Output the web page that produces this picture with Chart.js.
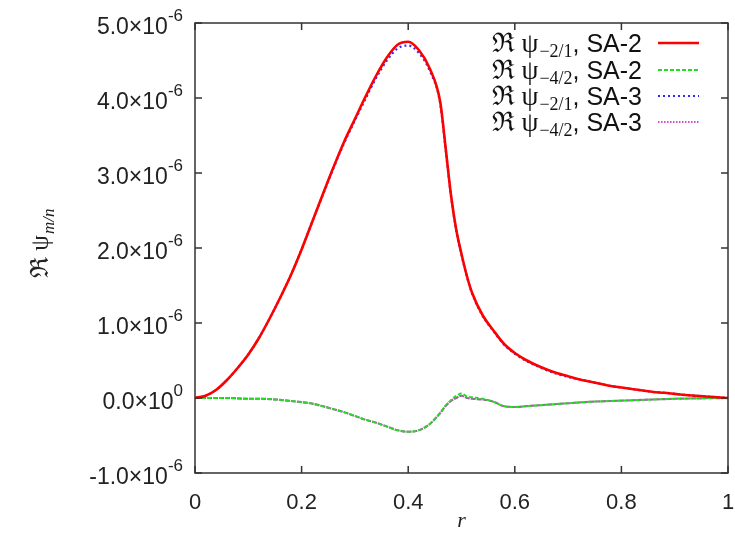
<!DOCTYPE html>
<html>
<head>
<meta charset="utf-8">
<script src="https://cdn.jsdelivr.net/npm/chart.js@4.4.0/dist/chart.umd.min.js"></script>
<style>
  html, body { margin: 0; padding: 0; background: #fff; }
  #wrap { width: 735px; height: 539px; }
</style>
</head>
<body>
<div id="wrap"><canvas id="psiChart" width="735" height="539"></canvas></div>
<script>
// radius grid and curves, values in units of 1e-6
const r = [0, 0.02, 0.04, 0.06, 0.08, 0.10, 0.12, 0.14, 0.16, 0.18, 0.20, 0.22, 0.24, 0.26, 0.28, 0.30,
    0.32, 0.34, 0.36, 0.38, 0.40, 0.42, 0.44, 0.46, 0.47, 0.48, 0.49, 0.50, 0.51, 0.52,
    0.54, 0.56, 0.58, 0.60, 0.62, 0.64, 0.66, 0.68, 0.70, 0.72, 0.74, 0.76, 0.78, 0.80,
    0.82, 0.84, 0.86, 0.88, 0.90, 0.92, 0.94, 0.96, 0.98, 1.00];

const psi21_sa2 = [0, 0.03, 0.11, 0.24, 0.40, 0.58, 0.80, 1.06, 1.34, 1.64, 1.98, 2.35, 2.72, 3.08, 3.42, 3.72,
    4.02, 4.30, 4.54, 4.71, 4.75, 4.64, 4.40, 3.95, 3.35, 2.72, 2.25, 1.92, 1.63, 1.40,
    1.10, 0.90, 0.72, 0.60, 0.51, 0.44, 0.38, 0.33, 0.29, 0.25, 0.22, 0.19, 0.16, 0.14,
    0.12, 0.10, 0.08, 0.07, 0.055, 0.04, 0.03, 0.02, 0.01, 0];

const psi42_sa2 = [0, 0, 0, 0, -0.005, -0.01, -0.01, -0.015, -0.025, -0.04, -0.055, -0.075, -0.11, -0.15, -0.19, -0.24,
    -0.29, -0.33, -0.38, -0.43, -0.45, -0.43, -0.35, -0.20, -0.10, -0.03, 0.03, 0.06, 0.02, 0.01,
    -0.01, -0.05, -0.11, -0.12, -0.11, -0.10, -0.09, -0.08, -0.07, -0.06, -0.05, -0.045, -0.04, -0.035,
    -0.03, -0.025, -0.02, -0.015, -0.01, -0.008, -0.005, -0.003, -0.001, 0];

const psi21_sa3 = [0, 0.03, 0.11, 0.24, 0.40, 0.58, 0.80, 1.06, 1.34, 1.64, 1.98, 2.35, 2.71, 3.07, 3.40, 3.70,
    3.99, 4.27, 4.50, 4.66, 4.70, 4.60, 4.37, 3.93, 3.33, 2.71, 2.24, 1.91, 1.62, 1.39,
    1.09, 0.89, 0.71, 0.59, 0.50, 0.43, 0.37, 0.32, 0.28, 0.25, 0.22, 0.19, 0.16, 0.14,
    0.12, 0.10, 0.08, 0.07, 0.055, 0.04, 0.03, 0.02, 0.01, 0];

const psi42_sa3 = [0, 0, 0, 0, -0.005, -0.01, -0.01, -0.015, -0.025, -0.04, -0.055, -0.075, -0.11, -0.15, -0.19, -0.24,
    -0.29, -0.33, -0.38, -0.43, -0.45, -0.43, -0.35, -0.20, -0.11, -0.04, 0.00, 0.03, 0.00, -0.01,
    -0.02, -0.05, -0.11, -0.12, -0.11, -0.10, -0.09, -0.08, -0.07, -0.06, -0.05, -0.045, -0.04, -0.035,
    -0.03, -0.025, -0.02, -0.015, -0.01, -0.008, -0.005, -0.003, -0.001, 0];

const unit = 1e-6;
const xTicks = [0, 0.2, 0.4, 0.6, 0.8, 1];
const yTicks = [-1, 0, 1, 2, 3, 4, 5];

const seriesInfo = [
    { sub: '\u22122/1', run: 'SA-2', data: psi21_sa2, color: '#ff0000', width: 2.6, dash: [] },
    { sub: '\u22124/2', run: 'SA-2', data: psi42_sa2, color: '#22dd22', width: 1.8, dash: [4, 2] },
    { sub: '\u22122/1', run: 'SA-3', data: psi21_sa3, color: '#2a2aff', width: 2.2, dash: [2, 3] },
    { sub: '\u22124/2', run: 'SA-3', data: psi42_sa3, color: '#9a6a9a', width: 2.2, dash: [5, 1] }
];

function toPoints(arr) {
    return r.map((x, i) => ({ x: x, y: arr[i] * unit }));
}

const sansFont = '"Liberation Sans", Arial, sans-serif';
const serifFont = '"Liberation Serif", "DejaVu Serif", serif';

const decorPlugin = {
    id: 'decor',
    afterDraw(chart) {
        const ctx = chart.ctx;
        const a = chart.chartArea;
        const xs = chart.scales.x;
        const ys = chart.scales.y;
        ctx.save();

        // frame and inward ticks (mirrored)
        ctx.strokeStyle = '#333';
        ctx.lineWidth = 1.5;
        ctx.strokeRect(a.left, a.top, a.right - a.left, a.bottom - a.top);
        ctx.beginPath();
        xTicks.forEach(t => {
            const px = xs.getPixelForValue(t);
            ctx.moveTo(px, a.bottom); ctx.lineTo(px, a.bottom - 7);
            ctx.moveTo(px, a.top); ctx.lineTo(px, a.top + 7);
        });
        yTicks.forEach(t => {
            const py = ys.getPixelForValue(t * unit);
            ctx.moveTo(a.left, py); ctx.lineTo(a.left + 7, py);
            ctx.moveTo(a.right, py); ctx.lineTo(a.right - 7, py);
        });
        ctx.stroke();

        // y tick labels with superscript exponent
        ctx.fillStyle = '#222';
        ctx.textBaseline = 'alphabetic';
        yTicks.forEach(t => {
            const py = ys.getPixelForValue(t * unit);
            const exp = t === 0 ? '0' : '-6';
            ctx.font = '17px ' + sansFont;
            const ew = ctx.measureText(exp).width;
            const right = a.left - 12;
            ctx.textAlign = 'left';
            ctx.fillText(exp, right - ew, py - 2);
            ctx.font = '23px ' + sansFont;
            ctx.textAlign = 'right';
            ctx.fillText(t.toFixed(1) + '\u00d710', right - ew, py + 11);
        });

        // x axis title
        ctx.font = 'italic 22px ' + serifFont;
        ctx.textAlign = 'center';
        ctx.fillText('r', xs.getPixelForValue(0.5), 527);

        // y axis title
        ctx.save();
        ctx.translate(48, 278);
        ctx.rotate(-Math.PI / 2);
        ctx.textAlign = 'left';
        ctx.font = '25px ' + serifFont;
        ctx.fillText('\u211c \u03c8', 0, 0);
        let w = ctx.measureText('\u211c \u03c8').width;
        ctx.font = 'italic 17px ' + serifFont;
        ctx.fillText('m/n', w + 1, 6);
        ctx.restore();

        // legend
        const rows = [43, 70, 96, 122];
        const textRight = 642;
        seriesInfo.forEach((s, i) => {
            const y = rows[i];
            ctx.font = '25px ' + sansFont;
            ctx.textAlign = 'right';
            ctx.fillStyle = '#111';
            const runTxt = ', ' + s.run;
            ctx.fillText(runTxt, textRight, y + 9);
            let x = textRight - ctx.measureText(runTxt).width;
            ctx.font = '18px ' + serifFont;
            ctx.fillText(s.sub, x, y + 14);
            x -= ctx.measureText(s.sub).width + 1;
            ctx.font = '27px ' + serifFont;
            ctx.fillText('\u211c \u03c8', x, y + 9);

            ctx.strokeStyle = i === 3 ? '#d050d0' : s.color;
            ctx.lineWidth = s.width;
            ctx.setLineDash(i === 3 ? [1.5, 1.5] : s.dash);
            ctx.beginPath();
            ctx.moveTo(658, y);
            ctx.lineTo(699, y);
            ctx.stroke();
            ctx.setLineDash([]);
        });
        ctx.restore();
    }
};

function initPsiChart() {
    const ctx = document.getElementById('psiChart').getContext('2d');
    new Chart(ctx, {
        type: 'line',
        data: {
            datasets: seriesInfo.map(s => ({
                label: '\u211c \u03c8 ' + s.sub + ', ' + s.run,
                data: toPoints(s.data),
                borderColor: s.color,
                borderWidth: s.width,
                borderDash: s.dash,
                pointRadius: 0,
                fill: false,
                cubicInterpolationMode: 'monotone'
            }))
        },
        options: {
            responsive: false,
            animation: false,
            layout: { padding: { left: 0, right: 7, top: 23, bottom: 0 } },
            plugins: {
                legend: { display: false },
                tooltip: { enabled: false }
            },
            scales: {
                x: {
                    type: 'linear',
                    min: 0,
                    max: 1,
                    grid: { display: false },
                    border: { display: false },
                    afterFit: s => { s.height = 66; s.paddingLeft = 0; s.paddingRight = 0; },
                    afterBuildTicks: s => { s.ticks = xTicks.map(v => ({ value: v })); },
                    ticks: {
                        padding: 9,
                        color: '#222',
                        font: { family: sansFont, size: 22 },
                        callback: v => String(v)
                    }
                },
                y: {
                    type: 'linear',
                    min: -1 * unit,
                    max: 5 * unit,
                    grid: { display: false },
                    border: { display: false },
                    ticks: { display: false },
                    afterFit: s => { s.width = 195; s.paddingTop = 0; s.paddingBottom = 0; }
                }
            }
        },
        plugins: [decorPlugin]
    });
}

document.addEventListener('DOMContentLoaded', function() {
    initPsiChart();
});
</script>
</body>
</html>
